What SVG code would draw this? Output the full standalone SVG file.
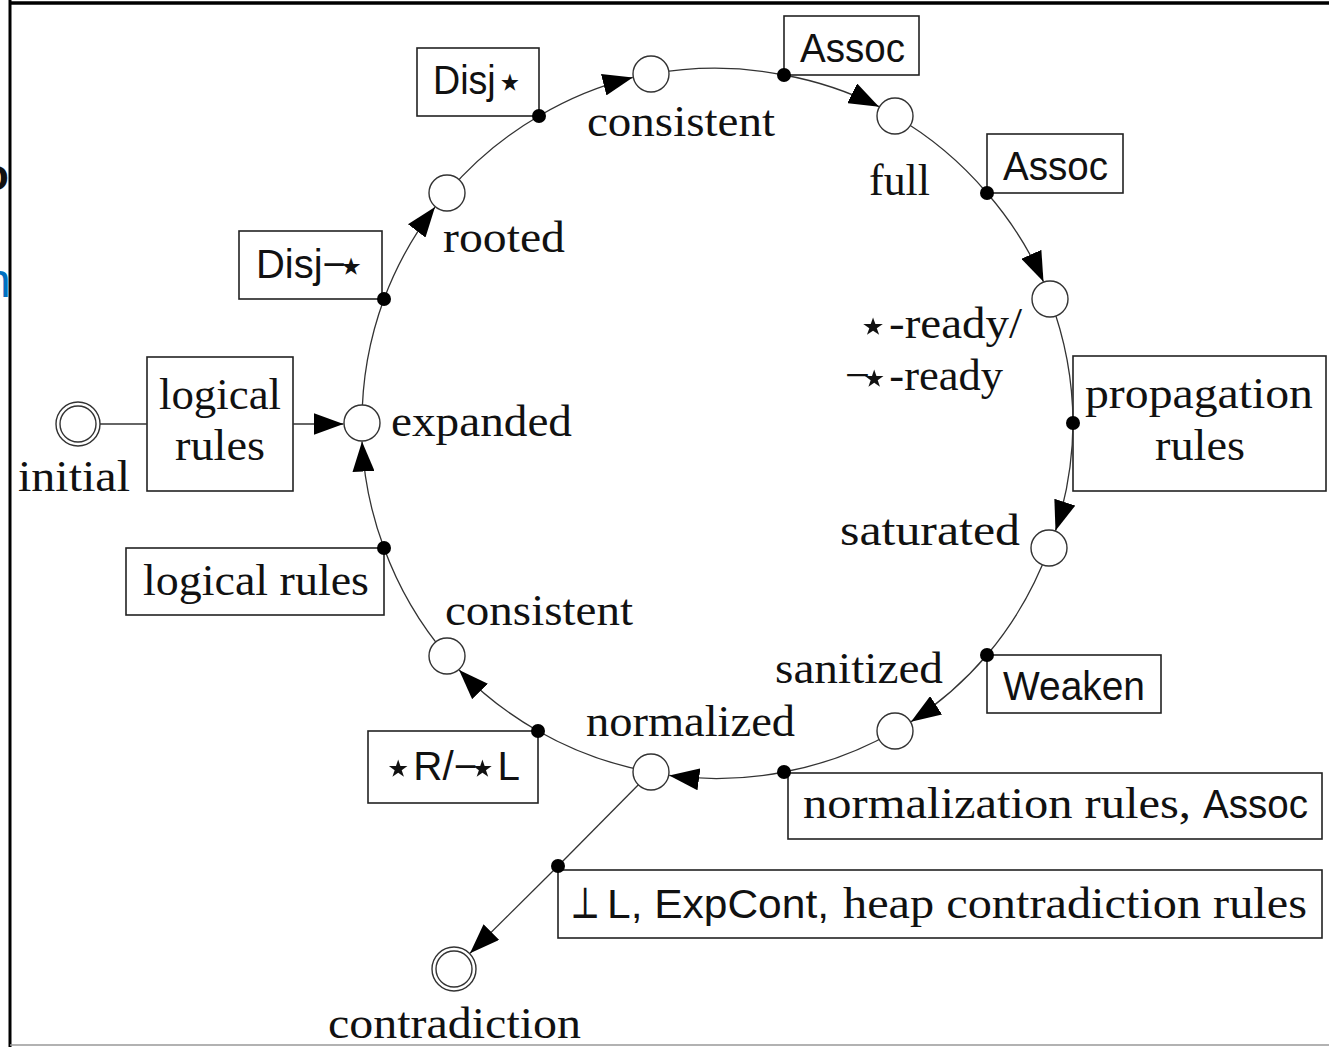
<svg xmlns="http://www.w3.org/2000/svg" width="1329" height="1047" viewBox="0 0 1329 1047">
<style>
.serif{font-family:"Liberation Serif","DejaVu Serif",serif;font-size:44px;fill:#111}
.sans{font-family:"Liberation Sans","DejaVu Sans",sans-serif;font-size:40px;fill:#111}
.st{font-family:"DejaVu Sans",sans-serif;font-size:48px}
.box{fill:#fff;stroke:#222;stroke-width:1.6}
.state{fill:#fff;stroke:#333;stroke-width:1.4}
.edge{fill:none;stroke:#333;stroke-width:1.3}
.dot{fill:#000}
</style>
<defs>
<marker id="arr" markerUnits="userSpaceOnUse" markerWidth="30" markerHeight="22" viewBox="0 0 30 22" refX="30" refY="11" orient="auto">
<path d="M0,0 L30,11 L0,22 z" fill="#000"/>
</marker>
</defs>
<rect width="1329" height="1047" fill="#fff"/>
<g id="frame">
<line x1="10" y1="0" x2="10" y2="1047" stroke="#000" stroke-width="3"/>
<line x1="10" y1="3" x2="1329" y2="3" stroke="#000" stroke-width="3.5"/>
<line x1="10" y1="1045" x2="1329" y2="1045" stroke="#999" stroke-width="1.5"/>
<text x="-18" y="190" font-family="Liberation Sans, sans-serif" font-size="44" font-weight="bold" fill="#111">o</text>
<text x="-16" y="297" font-family="Liberation Sans, sans-serif" font-size="48" fill="#0070c0">n</text>
</g>
<g id="rule-boxes">
<g id="box-logical-rules-1"><rect class="box" x="147" y="357" width="146" height="134"/>
<text class="serif" x="159" y="409" textLength="122" lengthAdjust="spacingAndGlyphs">logical</text>
<text class="serif" x="175" y="460" textLength="90" lengthAdjust="spacingAndGlyphs">rules</text></g>
<g id="box-disj-wand"><rect class="box" x="239" y="231" width="143" height="68"/>
<text class="sans" x="256" y="278" textLength="110" lengthAdjust="spacingAndGlyphs">Disj<tspan letter-spacing="-10">−</tspan><tspan class="st" dy="4">⋆</tspan></text></g>
<g id="box-disj-star"><rect class="box" x="417" y="48" width="122" height="68"/>
<text class="sans" x="433" y="94" textLength="91" lengthAdjust="spacingAndGlyphs">Disj<tspan class="st" dy="4">⋆</tspan></text></g>
<g id="box-assoc-1"><rect class="box" x="784" y="16" width="135" height="59"/>
<text class="sans" x="800" y="62" textLength="105" lengthAdjust="spacingAndGlyphs">Assoc</text></g>
<g id="box-assoc-2"><rect class="box" x="987" y="134" width="136" height="59"/>
<text class="sans" x="1003" y="180" textLength="105" lengthAdjust="spacingAndGlyphs">Assoc</text></g>
<g id="box-propagation"><rect class="box" x="1073" y="356" width="253" height="135"/>
<text class="serif" x="1085" y="408" textLength="228" lengthAdjust="spacingAndGlyphs">propagation</text>
<text class="serif" x="1155" y="460" textLength="90" lengthAdjust="spacingAndGlyphs">rules</text></g>
<g id="box-weaken"><rect class="box" x="987" y="655" width="174" height="58"/>
<text class="sans" x="1003" y="700" textLength="142" lengthAdjust="spacingAndGlyphs">Weaken</text></g>
<g id="box-normalization"><rect class="box" x="788" y="773" width="534" height="66"/>
<text class="serif" x="803" y="818" textLength="388" lengthAdjust="spacingAndGlyphs">normalization rules,</text>
<text class="sans" x="1203" y="818" textLength="105" lengthAdjust="spacingAndGlyphs">Assoc</text></g>
<g id="box-starR"><rect class="box" x="368" y="731" width="170" height="72"/>
<text class="sans" x="383" y="780" textLength="137" lengthAdjust="spacingAndGlyphs"><tspan class="st" dy="4">⋆</tspan><tspan dy="-4">R/</tspan><tspan letter-spacing="-10">−</tspan><tspan class="st" dy="4">⋆</tspan><tspan dy="-4">L</tspan></text></g>
<g id="box-logical-rules-2"><rect class="box" x="126" y="548" width="258" height="67"/>
<text class="serif" x="143" y="595" textLength="226" lengthAdjust="spacingAndGlyphs">logical rules</text></g>
<g id="box-contradiction-rules"><rect class="box" x="558" y="870" width="764" height="68"/>
<text class="serif" x="570" y="918" textLength="30" lengthAdjust="spacingAndGlyphs">⊥</text>
<text class="sans" x="607" y="918" textLength="222" lengthAdjust="spacingAndGlyphs">L, ExpCont,</text>
<text class="serif" x="843" y="918" textLength="464" lengthAdjust="spacingAndGlyphs">heap contradiction rules</text></g>
</g>
<g id="connectors">
<line class="edge" x1="100" y1="424" x2="147" y2="424"/>
<line class="edge" x1="293" y1="424" x2="343.5" y2="424" marker-end="url(#arr)"/>
<path class="edge" d="M362,423 A355,355 0 0 1 384,299"/>
<path class="edge" d="M384,299 A355,355 0 0 1 435,207.1" marker-end="url(#arr)"/>
<path class="edge" d="M447,193 A355,355 0 0 1 539,116"/>
<path class="edge" d="M539,116 A355,355 0 0 1 632.8,77.4" marker-end="url(#arr)"/>
<path class="edge" d="M651,74 A355,355 0 0 1 784,75"/>
<path class="edge" d="M784,75 A355,355 0 0 1 879,106.7" marker-end="url(#arr)"/>
<path class="edge" d="M895,116 A355,355 0 0 1 987,193"/>
<path class="edge" d="M987,193 A355,355 0 0 1 1043.5,281.7" marker-end="url(#arr)"/>
<path class="edge" d="M1050,299 A355,355 0 0 1 1073,423"/>
<path class="edge" d="M1073,423 A355,355 0 0 1 1055.5,530.7" marker-end="url(#arr)"/>
<path class="edge" d="M1049,548 A355,355 0 0 1 987,655"/>
<path class="edge" d="M987,655 A355,355 0 0 1 911,721.7" marker-end="url(#arr)"/>
<path class="edge" d="M895,731 A355,355 0 0 1 784,772"/>
<path class="edge" d="M784,772 A355,355 0 0 1 669.2,775.4" marker-end="url(#arr)"/>
<path class="edge" d="M651,772 A355,355 0 0 1 538,731"/>
<path class="edge" d="M538,731 A355,355 0 0 1 459.1,670" marker-end="url(#arr)"/>
<path class="edge" d="M447,656 A355,355 0 0 1 384,548"/>
<path class="edge" d="M384,548 A355,355 0 0 1 362,441.5" marker-end="url(#arr)"/>
<line class="edge" x1="651" y1="772" x2="558" y2="866"/>
<line class="edge" x1="558" y1="866" x2="470" y2="953.2" marker-end="url(#arr)"/>
<circle class="dot" cx="384" cy="299" r="7"/>
<circle class="dot" cx="539" cy="116" r="7"/>
<circle class="dot" cx="784" cy="75" r="7"/>
<circle class="dot" cx="987" cy="193" r="7"/>
<circle class="dot" cx="1073" cy="423" r="7"/>
<circle class="dot" cx="987" cy="655" r="7"/>
<circle class="dot" cx="784" cy="772" r="7"/>
<circle class="dot" cx="538" cy="731" r="7"/>
<circle class="dot" cx="384" cy="548" r="7"/>
<circle class="dot" cx="558" cy="866" r="7"/>
</g>
<g id="node-initial"><circle class="state" cx="78" cy="424" r="22"/><circle class="state" cx="78" cy="424" r="18"/>
<text class="serif" x="18" y="491" textLength="112" lengthAdjust="spacingAndGlyphs">initial</text></g>
<g id="node-expanded"><circle class="state" cx="362" cy="423" r="18"/>
<text class="serif" x="391" y="436" textLength="181" lengthAdjust="spacingAndGlyphs">expanded</text></g>
<g id="node-rooted"><circle class="state" cx="447" cy="193" r="18"/>
<text class="serif" x="443" y="252" textLength="122" lengthAdjust="spacingAndGlyphs">rooted</text></g>
<g id="node-consistent-top"><circle class="state" cx="651" cy="74" r="18"/>
<text class="serif" x="587" y="136" textLength="188" lengthAdjust="spacingAndGlyphs">consistent</text></g>
<g id="node-full"><circle class="state" cx="895" cy="116" r="18"/>
<text class="serif" x="869" y="195" textLength="61" lengthAdjust="spacingAndGlyphs">full</text></g>
<g id="node-ready"><circle class="state" cx="1050" cy="299" r="18"/>
<text class="serif" x="857" y="338" textLength="165" lengthAdjust="spacingAndGlyphs"><tspan class="st" dy="4">⋆</tspan><tspan dy="-4">-ready/</tspan></text>
<text class="serif" x="845" y="390" textLength="158" lengthAdjust="spacingAndGlyphs"><tspan letter-spacing="-11">−</tspan><tspan class="st" dy="4">⋆</tspan><tspan dy="-4">-ready</tspan></text></g>
<g id="node-saturated"><circle class="state" cx="1049" cy="548" r="18"/>
<text class="serif" x="840" y="545" textLength="180" lengthAdjust="spacingAndGlyphs">saturated</text></g>
<g id="node-sanitized"><circle class="state" cx="895" cy="731" r="18"/>
<text class="serif" x="775" y="683" textLength="168" lengthAdjust="spacingAndGlyphs">sanitized</text></g>
<g id="node-normalized"><circle class="state" cx="651" cy="772" r="18"/>
<text class="serif" x="586" y="736" textLength="209" lengthAdjust="spacingAndGlyphs">normalized</text></g>
<g id="node-consistent-bottom"><circle class="state" cx="447" cy="656" r="18"/>
<text class="serif" x="445" y="625" textLength="188" lengthAdjust="spacingAndGlyphs">consistent</text></g>
<g id="node-contradiction"><circle class="state" cx="454" cy="969" r="22"/><circle class="state" cx="454" cy="969" r="18"/>
<text class="serif" x="328" y="1038" textLength="253" lengthAdjust="spacingAndGlyphs">contradiction</text></g>
</svg>
